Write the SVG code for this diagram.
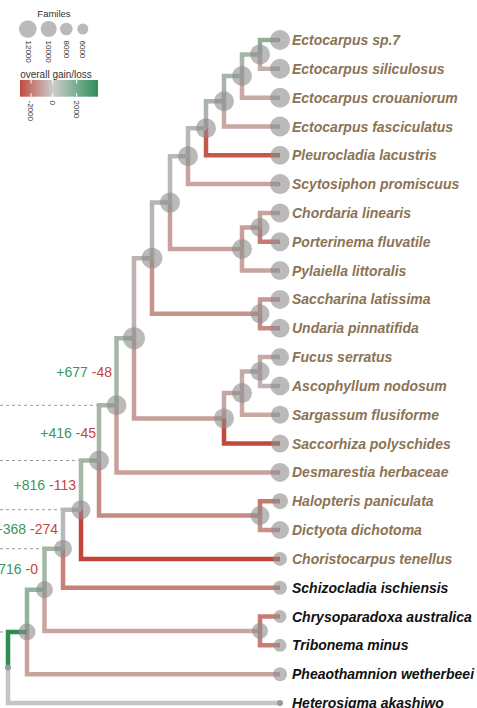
<svg xmlns="http://www.w3.org/2000/svg" width="477" height="708" viewBox="0 0 477 708">
<style>
.br{fill:none;stroke-width:4.5;stroke-linejoin:miter;stroke-linecap:butt}
.nd{fill:#8c8c8c;fill-opacity:0.6}
.tl{font-family:"Liberation Sans",Arial,sans-serif;font-style:italic;font-weight:bold;font-size:14px;fill:#8b7355}
.k{fill:#111111}
.gl{font-family:"Liberation Sans",Arial,sans-serif;font-size:14px}
.g{fill:#3a9660}
.r{fill:#c4463a}
.dash{stroke:#999999;stroke-width:1;stroke-dasharray:3 3;fill:none}
.lg{font-family:"Liberation Sans",Arial,sans-serif;fill:#333333}
.tick{stroke:#ffffff;stroke-width:1}
</style>
<defs>
<linearGradient id="gl" x1="0" y1="0" x2="1" y2="0">
<stop offset="0" stop-color="#c24a3f"/>
<stop offset="0.42" stop-color="#cdcdcd"/>
<stop offset="1" stop-color="#2f8f5a"/>
</linearGradient>
</defs>
<rect width="477" height="708" fill="#ffffff"/>

<g id="legend">
<text class="lg" x="54" y="16.5" font-size="9.5" text-anchor="middle">Familes</text>
<circle class="nd" cx="27.8" cy="29" r="8.8"/>
<circle class="nd" cx="48.7" cy="29" r="8"/>
<circle class="nd" cx="66.3" cy="29" r="6.3"/>
<circle class="nd" cx="82.8" cy="29" r="5.5"/>
<text class="lg" font-size="8" transform="translate(25.8,40.5) rotate(90)">12000</text>
<text class="lg" font-size="8" transform="translate(46.3,40.5) rotate(90)">10000</text>
<text class="lg" font-size="8" transform="translate(63.6,40.5) rotate(90)">8000</text>
<text class="lg" font-size="8" transform="translate(80,40.5) rotate(90)">6000</text>
<text class="lg" x="56" y="78" font-size="10" text-anchor="middle">overall gain/loss</text>
<rect x="20" y="80" width="78" height="16.7" fill="url(#gl)"/>
<line class="tick" x1="31" y1="80" x2="31" y2="83.5"/>
<line class="tick" x1="31" y1="93.2" x2="31" y2="96.7"/>
<line class="tick" x1="52.7" y1="80" x2="52.7" y2="83.5"/>
<line class="tick" x1="52.7" y1="93.2" x2="52.7" y2="96.7"/>
<line class="tick" x1="76.7" y1="80" x2="76.7" y2="83.5"/>
<line class="tick" x1="76.7" y1="93.2" x2="76.7" y2="96.7"/>
<text class="lg" font-size="8" transform="translate(28.2,100.5) rotate(90)">-2000</text>
<text class="lg" font-size="8" transform="translate(49.8,100.5) rotate(90)">0</text>
<text class="lg" font-size="8" transform="translate(73.8,100.5) rotate(90)">2000</text>
</g>

<g id="connectors">
<path class="dash" d="M0 405.3H97"/>
<path class="dash" d="M0 460.5H79"/>
<path class="dash" d="M0 509.7H61"/>
<path class="dash" d="M0 548.7H43"/>
<path class="dash" d="M0 632H6"/>
<path class="br" stroke="#8fb197" d="M260 54.4V40H280"/>
<path class="br" stroke="#c6aea9" d="M260 54.4V68.8H280"/>
<path class="br" stroke="#a8b6a9" d="M242 76V54.4H260"/>
<path class="br" stroke="#c8aaa5" d="M242 76V97.7H280"/>
<path class="br" stroke="#a7b6a9" d="M224 101.3V76H242"/>
<path class="br" stroke="#c9a7a2" d="M224 101.3V126.5H280"/>
<path class="br" stroke="#a9b5aa" d="M206 128.3V101.3H224"/>
<path class="br" stroke="#c4584b" d="M206 128.3V155.3H280"/>
<path class="br" stroke="#b7b7b7" d="M188 156.2V128.3H206"/>
<path class="br" stroke="#c9a39e" d="M188 156.2V184.1H280"/>
<path class="br" stroke="#b9b8b8" d="M170 202.6V156.2H188"/>
<path class="br" stroke="#c9a19c" d="M170 202.6V249H242"/>
<path class="br" stroke="#c8a09a" d="M242 249V227.4H260"/>
<path class="br" stroke="#c9a49f" d="M242 249V270.6H280"/>
<path class="br" stroke="#c8a29c" d="M260 227.4V213H280"/>
<path class="br" stroke="#c67a70" d="M260 227.4V241.8H280"/>
<path class="br" stroke="#b9b4b3" d="M152 258.2V202.6H170"/>
<path class="br" stroke="#c5958d" d="M152 258.2V313.8H260"/>
<path class="br" stroke="#c8978f" d="M260 313.8V299.4H280"/>
<path class="br" stroke="#c78a80" d="M260 313.8V328.3H280"/>
<path class="br" stroke="#bdb2b0" d="M134 338.3V258.2H152"/>
<path class="br" stroke="#c69f99" d="M134 338.3V418.4H224"/>
<path class="br" stroke="#c6a6a1" d="M224 418.4V393.1H242"/>
<path class="br" stroke="#c3493c" d="M224 418.4V443.6H280"/>
<path class="br" stroke="#c2aba7" d="M242 393.1V371.5H260"/>
<path class="br" stroke="#c9a7a2" d="M242 393.1V414.7H280"/>
<path class="br" stroke="#c8aaa5" d="M260 371.5V357.1H280"/>
<path class="br" stroke="#bfb3b1" d="M260 371.5V385.9H280"/>
<path class="br" stroke="#a6b7a9" d="M116.5 405.3V338.3H134"/>
<path class="br" stroke="#c9a09a" d="M116.5 405.3V472.4H280"/>
<path class="br" stroke="#a8b6a9" d="M99 460.5V405.3H116.5"/>
<path class="br" stroke="#c68c84" d="M99 460.5V515.6H260"/>
<path class="br" stroke="#c7786d" d="M260 515.6V501.2H280"/>
<path class="br" stroke="#c89088" d="M260 515.6V530H280"/>
<path class="br" stroke="#a6b6a8" d="M81 509.7V460.5H99"/>
<path class="br" stroke="#c2443a" d="M81 509.7V558.9H280"/>
<path class="br" stroke="#b6b9b6" d="M63 548.7V509.7H81"/>
<path class="br" stroke="#c98078" d="M63 548.7V587.7H280"/>
<path class="br" stroke="#a2b8a6" d="M44.5 589.8V548.7H63"/>
<path class="br" stroke="#c8a59f" d="M44.5 589.8V630.9H260"/>
<path class="br" stroke="#c77c72" d="M260 630.9V616.5H280"/>
<path class="br" stroke="#c87e74" d="M260 630.9V645.3H280"/>
<path class="br" stroke="#92b49b" d="M27 632V589.8H44.5"/>
<path class="br" stroke="#c9a39d" d="M27 632V674.2H280"/>
<path class="br" stroke="#2f8b56" d="M8 667.5V632H27"/>
<path class="br" stroke="#c4c4c4" d="M8 667.5V703H280"/>
</g>

<g id="branch-labels">
<text class="gl" x="112" y="377" text-anchor="end"><tspan class="g">+677</tspan> <tspan class="r">-48</tspan></text>
<text class="gl" x="96" y="438" text-anchor="end"><tspan class="g">+416</tspan> <tspan class="r">-45</tspan></text>
<text class="gl" x="76" y="490" text-anchor="end"><tspan class="g">+816</tspan> <tspan class="r">-113</tspan></text>
<text class="gl" x="58" y="534" text-anchor="end"><tspan class="g">+368</tspan> <tspan class="r">-274</tspan></text>
<text class="gl" x="38" y="574" text-anchor="end"><tspan class="g">+716</tspan> <tspan class="r">-0</tspan></text>
</g>

<g id="n-A"><circle class="nd" cx="260" cy="54.4" r="10"/></g>
<g id="n-B"><circle class="nd" cx="242" cy="76" r="10"/></g>
<g id="n-C"><circle class="nd" cx="224" cy="101.3" r="10"/></g>
<g id="n-D"><circle class="nd" cx="206" cy="128.3" r="10"/></g>
<g id="n-E"><circle class="nd" cx="188" cy="156.2" r="10"/></g>
<g id="n-F"><circle class="nd" cx="170" cy="202.6" r="10"/></g>
<g id="n-G"><circle class="nd" cx="260" cy="227.4" r="9.5"/></g>
<g id="n-H"><circle class="nd" cx="242" cy="249" r="10"/></g>
<g id="n-I"><circle class="nd" cx="260" cy="313.8" r="9.5"/></g>
<g id="n-J"><circle class="nd" cx="152" cy="258.2" r="10.5"/></g>
<g id="n-K"><circle class="nd" cx="134" cy="338.3" r="11"/></g>
<g id="n-L"><circle class="nd" cx="224" cy="418.4" r="10"/></g>
<g id="n-M"><circle class="nd" cx="260" cy="371.5" r="9.5"/></g>
<g id="n-N"><circle class="nd" cx="242" cy="393.1" r="10"/></g>
<g id="n-O"><circle class="nd" cx="260" cy="515.6" r="9.5"/></g>
<g id="n-P"><circle class="nd" cx="116.5" cy="405.3" r="10"/></g>
<g id="n-Q"><circle class="nd" cx="99" cy="460.5" r="10"/></g>
<g id="n-R"><circle class="nd" cx="81" cy="509.7" r="9.5"/></g>
<g id="n-S"><circle class="nd" cx="63" cy="548.7" r="9"/></g>
<g id="n-T"><circle class="nd" cx="44.5" cy="589.8" r="8.5"/></g>
<g id="n-U"><circle class="nd" cx="260" cy="630.9" r="8"/></g>
<g id="n-V"><circle class="nd" cx="27" cy="632" r="8.5"/></g>
<g id="n-root"><circle cx="8" cy="667.5" r="3" fill="#999999"/></g>

<g id="t-ectocarpus-sp7"><circle class="nd" cx="280" cy="40" r="10"/><text class="tl" x="292" y="45">Ectocarpus sp.7</text></g>
<g id="t-ectocarpus-siliculosus"><circle class="nd" cx="280" cy="68.8" r="10"/><text class="tl" x="292" y="73.8">Ectocarpus siliculosus</text></g>
<g id="t-ectocarpus-crouaniorum"><circle class="nd" cx="280" cy="97.7" r="10"/><text class="tl" x="292" y="102.7">Ectocarpus crouaniorum</text></g>
<g id="t-ectocarpus-fasciculatus"><circle class="nd" cx="280" cy="126.5" r="10"/><text class="tl" x="292" y="131.5">Ectocarpus fasciculatus</text></g>
<g id="t-pleurocladia"><circle class="nd" cx="280" cy="155.3" r="9.5"/><text class="tl" x="292" y="160.3">Pleurocladia lacustris</text></g>
<g id="t-scytosiphon"><circle class="nd" cx="280" cy="184.1" r="10"/><text class="tl" x="292" y="189.1">Scytosiphon promiscuus</text></g>
<g id="t-chordaria"><circle class="nd" cx="280" cy="213" r="9.5"/><text class="tl" x="292" y="218">Chordaria linearis</text></g>
<g id="t-porterinema"><circle class="nd" cx="280" cy="241.8" r="9.5"/><text class="tl" x="292" y="246.8">Porterinema fluvatile</text></g>
<g id="t-pylaiella"><circle class="nd" cx="280" cy="270.6" r="9.5"/><text class="tl" x="292" y="275.6">Pylaiella littoralis</text></g>
<g id="t-saccharina"><circle class="nd" cx="280" cy="299.4" r="9.5"/><text class="tl" x="292" y="304.4">Saccharina latissima</text></g>
<g id="t-undaria"><circle class="nd" cx="280" cy="328.3" r="9.5"/><text class="tl" x="292" y="333.3">Undaria pinnatifida</text></g>
<g id="t-fucus"><circle class="nd" cx="280" cy="357.1" r="9"/><text class="tl" x="292" y="362.1">Fucus serratus</text></g>
<g id="t-ascophyllum"><circle class="nd" cx="280" cy="385.9" r="9.5"/><text class="tl" x="292" y="390.9">Ascophyllum nodosum</text></g>
<g id="t-sargassum"><circle class="nd" cx="280" cy="414.7" r="9"/><text class="tl" x="292" y="419.7">Sargassum flusiforme</text></g>
<g id="t-saccorhiza"><circle class="nd" cx="280" cy="443.6" r="9"/><text class="tl" x="292" y="448.6">Saccorhiza polyschides</text></g>
<g id="t-desmarestia"><circle class="nd" cx="280" cy="472.4" r="9.5"/><text class="tl" x="292" y="477.4">Desmarestia herbaceae</text></g>
<g id="t-halopteris"><circle class="nd" cx="280" cy="501.2" r="8"/><text class="tl" x="292" y="506.2">Halopteris paniculata</text></g>
<g id="t-dictyota"><circle class="nd" cx="280" cy="530" r="9"/><text class="tl" x="292" y="535">Dictyota dichotoma</text></g>
<g id="t-choristocarpus"><circle class="nd" cx="280" cy="558.9" r="7"/><text class="tl" x="292" y="563.9">Choristocarpus tenellus</text></g>
<g id="t-schizocladia"><circle class="nd" cx="280" cy="587.7" r="7"/><text class="tl k" x="292" y="592.7">Schizocladia ischiensis</text></g>
<g id="t-chrysoparadoxa"><circle class="nd" cx="280" cy="616.5" r="6.5"/><text class="tl k" x="292" y="621.5">Chrysoparadoxa australica</text></g>
<g id="t-tribonema"><circle class="nd" cx="280" cy="645.3" r="6.5"/><text class="tl k" x="292" y="650.3">Tribonema minus</text></g>
<g id="t-pheaothamnion"><circle class="nd" cx="280" cy="674.2" r="7"/><text class="tl k" x="292" y="679.2">Pheaothamnion wetherbeei</text></g>
<g id="t-heterosigma"><circle cx="280" cy="703" r="3" fill="#999999"/><text class="tl k" x="292" y="708">Heterosigma akashiwo</text></g>
</svg>
